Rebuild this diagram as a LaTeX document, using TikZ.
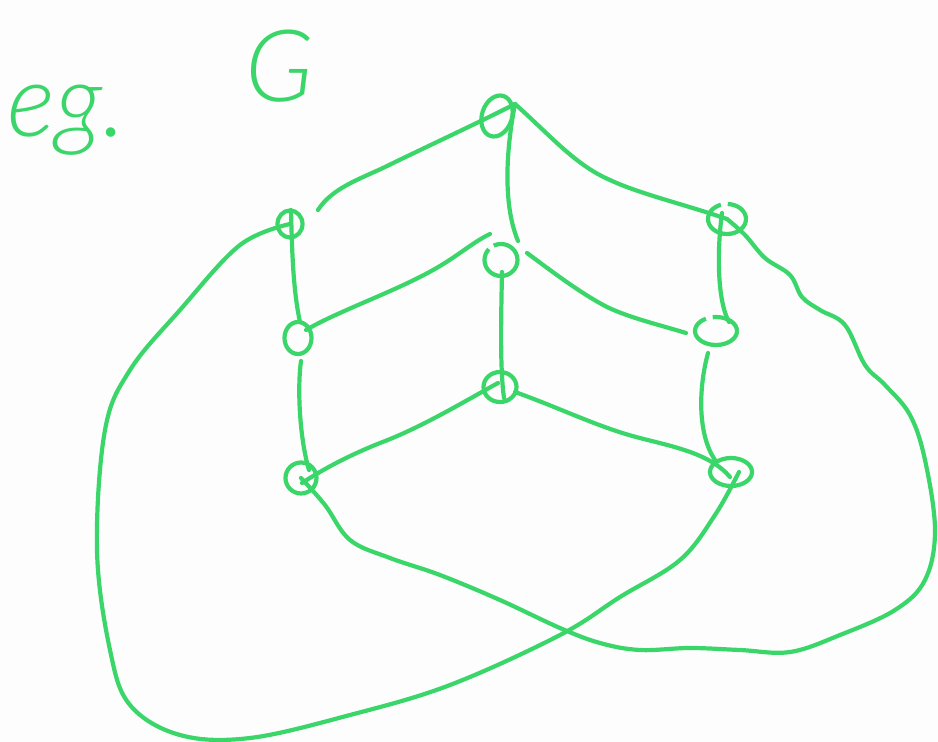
\documentclass[tikz,border=0pt]{standalone}
\usepackage{fontspec}
\setmainfont{Lato}[UprightFont=* Light,ItalicFont=* Light Italic]
\usetikzlibrary{shapes.geometric}
\definecolor{penGreen}{HTML}{3BD66A}
\definecolor{sheet}{HTML}{FDFDFD}
\tikzset{
  vtx/.style={ellipse,draw=penGreen,line width=4.2pt,inner sep=0pt},
  wire/.style={draw=penGreen,line width=4.2pt,line cap=round,line join=round},
  hand/.style={text=penGreen,inner sep=0pt}
}
\begin{document}
\begin{tikzpicture}[x=1pt,y=-1pt]
\useasboundingbox (0,0) rectangle (938,742);
\fill[sheet] (0,0) rectangle (938,742);
\node[hand,font=\itshape\fontsize{102}{102}\selectfont] (eg) at (67,120) {eg.};
\node[hand,font=\itshape\fontsize{100}{100}\selectfont] (name) at (280,66) {G};
\node[vtx,minimum width=42pt,minimum height=30pt,rotate=72] (top) at (497,116) {};
\node[vtx,minimum width=25pt,minimum height=27pt] (left) at (290,224) {};
\node[vtx,minimum width=38pt,minimum height=30pt,dash pattern=on 26pt off 7pt on 90pt] (right) at (727,219) {};
\node[vtx,minimum width=33pt,minimum height=32pt,dash pattern=on 33pt off 6pt on 80pt] (midc) at (501,260) {};
\node[vtx,minimum width=27pt,minimum height=32pt] (midl) at (298,338) {};
\node[vtx,minimum width=42pt,minimum height=28pt,dash pattern=on 31pt off 7pt on 90pt] (midr) at (716,331) {};
\node[vtx,minimum width=33pt,minimum height=30pt] (botc) at (500,387) {};
\node[vtx,minimum width=31pt,minimum height=31pt] (botl) at (301,478) {};
\node[vtx,minimum width=42pt,minimum height=28pt] (botr) at (731,472) {};
\draw[wire] ([shift={(28,-14)}]left.center) .. controls (332,188) and (360,179) .. (385,167) .. controls (430,145) and (480,122) .. ([shift={(18,-12)}]top.center);
\draw[wire] ([shift={(18,-12)}]top.center) .. controls (508,140) and (501,200) .. ([shift={(17,-19)}]midc.center);
\draw[wire] ([shift={(18,-12)}]top.center) .. controls (550,135) and (575,165) .. (610,180) .. controls (640,194) and (680,203) .. (right.center);
\draw[wire] ([shift={(-5,-6)}]right.center) .. controls (717,250) and (717,300) .. ([shift={(13,-9)}]midr.center);
\draw[wire] plot[smooth,tension=0.6] coordinates {(right.center) (745,235) (765,258) (790,275) (802,297) (820,310) (845,325) (865,365) (885,385) (910,415) (925,460) (935,530) (925,580) (895,610) (840,635) (790,652) (740,650) (690,648) (640,650) (600,643) (560,628) (500,600) (440,575) (390,558) (350,540) (325,505) (botl.center)};
\draw[wire] ([shift={(1,-14)}]left.center) .. controls (292,250) and (293,290) .. ([shift={(2,-16)}]midl.center);
\draw[wire] ([shift={(8,-8)}]midl.center) .. controls (340,310) and (400,290) .. (440,266) .. controls (460,254) and (475,241) .. ([shift={(-11,-26)}]midc.center);
\draw[wire] ([shift={(26,-7)}]midc.center) .. controls (550,270) and (580,293) .. (607,307) .. controls (630,318) and (660,325) .. ([shift={(-30,2)}]midr.center);
\draw[wire] ([shift={(1,12)}]midc.center) .. controls (501,320) and (500,370) .. ([shift={(4,11)}]botc.center);
\draw[wire] ([shift={(3,23)}]midl.center) .. controls (297,390) and (300,440) .. ([shift={(8,-8)}]botl.center);
\draw[wire] ([shift={(-2,-4)}]botc.center) .. controls (460,404) and (420,428) .. (380,443) .. controls (350,455) and (325,468) .. ([shift={(1,5)}]botl.center);
\draw[wire] ([shift={(15,5)}]botc.center) .. controls (560,408) and (600,428) .. (640,438) .. controls (670,446) and (710,453) .. ([shift={(-1,5)}]botr.center);
\draw[wire] ([shift={(-8,22)}]midr.center) .. controls (698,390) and (698,435) .. ([shift={(-16,-12)}]botr.center);
\draw[wire] plot[smooth,tension=0.6] coordinates {(left.center) (240,245) (180,310) (130,370) (105,430) (97,550) (110,650) (130,705) (180,735) (250,738) (350,715) (450,685) (560,635) (620,597) (680,560) (715,515) ([shift={(8,0)}]botr.center)};
\end{tikzpicture}
\end{document}
